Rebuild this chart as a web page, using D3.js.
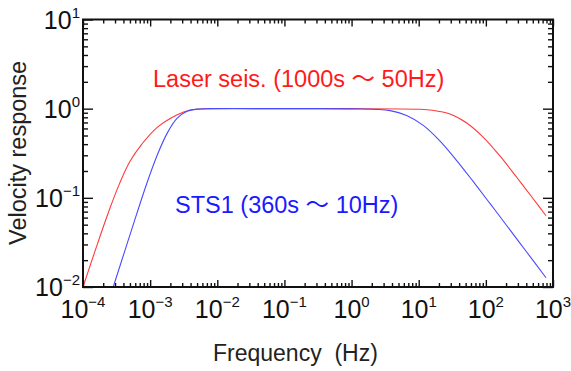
<!DOCTYPE html>
<html>
<head>
<meta charset="utf-8">
<script src="https://cdn.jsdelivr.net/npm/d3@7"></script>
<style>
  body { margin: 0; background: #fff; }
  svg { display: block; font-family: "Liberation Sans", Arial, "Noto Sans CJK JP", sans-serif; }
</style>
</head>
<body>
<div id="chart"></div>
<script>
// values
const laserFreq = [1.0e-4, 1.585e-4, 2.51e-4, 3.55e-4, 5.01e-4, 7.48e-4, 1.25e-3, 2.49e-3, 3.93e-3, 6.3e-3, 1e-2, 1e-1, 1, 10, 16, 29.3, 51.9, 91.7, 162, 288, 510, 787];
const laserResp = [0.01, 0.0282, 0.0759, 0.148, 0.257, 0.398, 0.61, 0.851, 0.966, 0.995, 1, 1, 1, 0.985, 0.96, 0.87, 0.69, 0.477, 0.295, 0.17, 0.097, 0.063];

const stsFreq = [2.82e-4, 4.47e-4, 6.31e-4, 8.91e-4, 1.26e-3, 1.78e-3, 2.51e-3, 3.55e-3, 5.01e-3, 7.94e-3, 1e-1, 1, 3.74, 6.6, 11.7, 20.8, 36.8, 65, 115, 204, 405, 787];
const stsResp = [0.01, 0.0295, 0.066, 0.145, 0.295, 0.525, 0.776, 0.933, 0.989, 1, 1, 0.995, 0.95, 0.84, 0.65, 0.433, 0.262, 0.152, 0.0866, 0.049, 0.0247, 0.0127];

const xDecades = [-4, -3, -2, -1, 0, 1, 2, 3];
const yDecades = [-2, -1, 0, 1];

const width = 571;
const height = 371;
const RED = '#ff3a3a';
const BLUE = '#4a4aff';

const svg = d3.select('#chart').append('svg')
  .attr('width', width)
  .attr('height', height);

const x = d3.scaleLog().domain([1e-4, 1e3]).range([83, 553]);
const y = d3.scaleLog().domain([1e-2, 1e1]).range([287, 19.5]);

// minor tick values (2..9 x decade)
const minorOf = decs => {
  const out = [];
  decs.slice(0, -1).forEach(d => {
    for (let k = 2; k <= 9; k++) out.push(k * Math.pow(10, d));
  });
  return out;
};
const xMajor = xDecades.map(d => Math.pow(10, d));
const yMajor = yDecades.map(d => Math.pow(10, d));
const xMinor = minorOf(xDecades);
const yMinor = minorOf(yDecades);

const addTicks = (axis, tx, ty) => {
  const g = svg.append('g').attr('transform', `translate(${tx},${ty})`).call(axis);
  g.select('.domain').remove();
  g.selectAll('line').attr('stroke', '#111').attr('stroke-width', 1.4);
};

const y0 = y.range()[0], y1 = y.range()[1];
const x0 = x.range()[0], x1 = x.range()[1];

addTicks(d3.axisBottom(x).tickValues(xMajor).tickSize(-7).tickFormat(''), 0, y0);
addTicks(d3.axisBottom(x).tickValues(xMinor).tickSize(-4).tickFormat(''), 0, y0);
addTicks(d3.axisTop(x).tickValues(xMajor).tickSize(-7).tickFormat(''), 0, y1);
addTicks(d3.axisTop(x).tickValues(xMinor).tickSize(-4).tickFormat(''), 0, y1);
addTicks(d3.axisLeft(y).tickValues(yMajor).tickSize(-10).tickFormat(''), x0, 0);
addTicks(d3.axisLeft(y).tickValues(yMinor).tickSize(-5).tickFormat(''), x0, 0);
addTicks(d3.axisRight(y).tickValues(yMajor).tickSize(-10).tickFormat(''), x1, 0);
addTicks(d3.axisRight(y).tickValues(yMinor).tickSize(-5).tickFormat(''), x1, 0);

// curves
svg.append('clipPath').attr('id', 'plot-clip')
  .append('rect').attr('x', x0).attr('y', y1).attr('width', x1 - x0).attr('height', y0 - y1);

const line = d3.line()
  .x(d => x(d[0]))
  .y(d => y(d[1]))
  .curve(d3.curveCatmullRom.alpha(0.5));

svg.append('path')
  .datum(d3.zip(laserFreq, laserResp))
  .attr('clip-path', 'url(#plot-clip)')
  .attr('fill', 'none')
  .attr('stroke', RED)
  .attr('stroke-width', 1.1)
  .attr('d', line);

svg.append('path')
  .datum(d3.zip(stsFreq, stsResp))
  .attr('clip-path', 'url(#plot-clip)')
  .attr('fill', 'none')
  .attr('stroke', BLUE)
  .attr('stroke-width', 1.1)
  .attr('d', line);

// frame
svg.append('rect')
  .attr('x', x0).attr('y', y1)
  .attr('width', x1 - x0).attr('height', y0 - y1)
  .attr('fill', 'none')
  .attr('stroke', '#111')
  .attr('stroke-width', 2);

// tick labels with superscripts
const powLabel = (sel, d) => {
  sel.append('tspan').text('10');
  sel.append('tspan')
    .attr('dy', -11)
    .attr('font-size', 15)
    .text(d < 0 ? '\u2212' + Math.abs(d) : d);
};

xDecades.forEach(d => {
  const t = svg.append('text')
    .attr('x', x(Math.pow(10, d)))
    .attr('y', 318)
    .attr('text-anchor', 'middle')
    .attr('font-size', 25)
    .attr('fill', '#111');
  powLabel(t, d);
});

yDecades.forEach(d => {
  const t = svg.append('text')
    .attr('x', 80)
    .attr('y', y(Math.pow(10, d)) + 9)
    .attr('text-anchor', 'end')
    .attr('font-size', 25)
    .attr('fill', '#111');
  powLabel(t, d);
});

// axis titles
svg.append('text')
  .attr('x', 213)
  .attr('y', 361)
  .attr('font-size', 23)
  .attr('fill', '#222')
  .attr('xml:space', 'preserve')
  .text('Frequency  (Hz)');

svg.append('text')
  .attr('transform', 'translate(26,245) rotate(-90)')
  .attr('font-size', 23.5)
  .attr('fill', '#222')
  .text('Velocity response');

// annotations
svg.append('text')
  .attr('x', 153)
  .attr('y', 87)
  .attr('font-size', 23.5)
  .attr('fill', '#ff1a1a')
  .text('Laser seis. (1000s \u301c 50Hz)');

svg.append('text')
  .attr('x', 175)
  .attr('y', 213)
  .attr('font-size', 23.5)
  .attr('fill', '#1a1aff')
  .text('STS1 (360s \u301c 10Hz)');
</script>
</body>
</html>
